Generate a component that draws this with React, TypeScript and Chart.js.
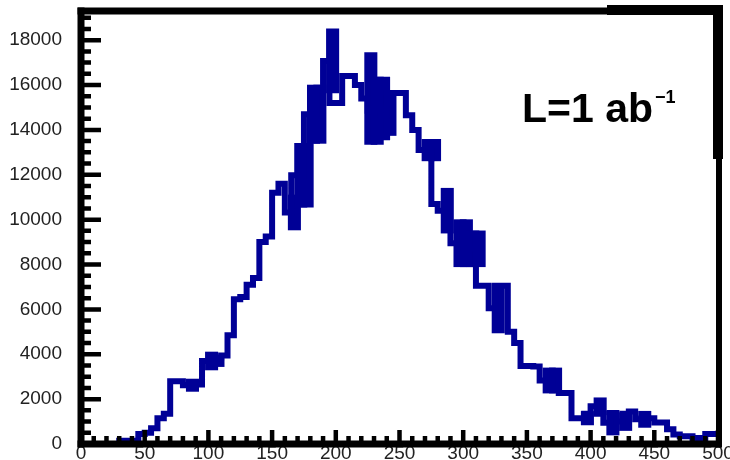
import React, { useEffect, useRef } from "react";
import { Chart, registerables } from "chart.js";

Chart.register(...registerables);

// ---- Axis ranges / ticks ----
const X_MIN = 0;
const X_MAX = 500;
const Y_MIN = 0;
const Y_MAX = 19300;
const X_TICK_STEP = 50;
const Y_TICK_STEP = 2000;
const BIN_WIDTH = 5;

// ---- Histogram bins (low edges) ----
const binLowEdges = [
  30, 35, 40, 45, 50, 55, 60, 65, 70, 75,
  80, 85, 90, 95, 100, 105, 110, 115, 120, 125,
  130, 135, 140, 145, 150, 155, 160, 165, 170, 175,
  180, 185, 190, 195, 200, 205, 210, 215, 220, 225,
  230, 235, 240, 245, 250, 255, 260, 265, 270, 275,
  280, 285, 290, 295, 300, 305, 310, 315, 320, 325,
  330, 335, 340, 345, 350, 355, 360, 365, 370, 375,
  380, 385, 390, 395, 400, 405, 410, 415, 420, 425,
  430, 435, 440, 445, 450, 455, 460, 465, 470, 475,
  480, 485, 490, 495,
];

// ---- Bin contents ----
const counts = [
  100, 150, 150, 150, 450, 500, 700, 1150, 1350, 2800,
  2800, 2620, 2650, 2650, 3700, 3700, 3850, 3950, 4850, 6450,
  6550, 7100, 7400, 9000, 9250, 11200, 11600, 10320, 11980, 11980,
  14700, 14700, 15850, 17075, 15200, 15200, 16400, 16400, 16000, 15400,
  14850, 14950, 14650, 15650, 15650, 15650, 14650, 14000, 13100, 13100,
  10700, 10400, 9850, 8950, 8950, 8700, 8700, 7050, 7050, 6050,
  7050, 7050, 5000, 4500, 3480, 3480, 3450, 2830, 2830, 2450,
  2270, 2270, 1150, 1150, 1350, 1680, 1350, 950, 1350, 1000,
  1350, 1450, 1100, 1150, 1150, 960, 960, 660, 420, 350,
  350, 270, 270, 450,
];

// ---- Bin errors (half-height of error boxes) ----
const errors = [
  0, 0, 0, 0, 0, 0, 0, 0, 0, 0,
  0, 275, 0, 0, 400, 250, 0, 0, 0, 0,
  0, 0, 0, 0, 0, 0, 0, 780, 1420, 1420,
  1300, 1300, 0, 1425, 0, 0, 0, 0, 0, 2050,
  1500, 1400, 900, 0, 0, 0, 0, 0, 480, 480,
  0, 1000, 0, 1050, 1050, 800, 800, 0, 0, 1100,
  0, 0, 0, 0, 0, 0, 0, 560, 560, 0,
  0, 0, 0, 300, 0, 380, 0, 550, 0, 400,
  0, 0, 360, 0, 0, 0, 0, 0, 0, 0,
  0, 0, 0, 0,
];

const ANNOTATION_MAIN = "L=1 ab";
const ANNOTATION_SUP = "\u22121";

const LINE_COLOR = "#000096";
const FONT_FAMILY = '"Liberation Sans", Arial, Helvetica, sans-serif';

const framePlugin = {
  id: "rootFrame",
  afterDatasetsDraw(chart: any) {
    const { ctx, chartArea, scales } = chart;
    const { left, right, top, bottom } = chartArea;
    const xs = scales.x;
    const ys = scales.y;
    ctx.save();
    ctx.strokeStyle = "#000";
    ctx.lineCap = "butt";
    ctx.lineWidth = 4.5;
    ctx.beginPath();
    for (let v = X_MIN; v <= X_MAX; v += 10) {
      const px = xs.getPixelForValue(v);
      const len = v % 50 === 0 ? 14 : 8;
      ctx.moveTo(px, bottom);
      ctx.lineTo(px, bottom - len);
    }
    for (let v = Y_MIN; v <= 19000; v += 500) {
      const py = ys.getPixelForValue(v);
      const len = v % 2000 === 0 ? 20 : 10;
      ctx.moveTo(left, py);
      ctx.lineTo(left + len, py);
    }
    ctx.stroke();

    ctx.fillStyle = "#000";
    // top
    ctx.fillRect(left - 3.5, top - 3.5, right - left + 8, 7);
    ctx.fillRect(607, top - 6, right + 5 - 607, 10);
    // left
    ctx.fillRect(left - 3.5, top - 3.5, 7, bottom - top + 7);
    // bottom
    ctx.fillRect(left - 3.5, bottom - 3.5, right - left + 7, 7);
    // right
    ctx.fillRect(right - 2, top - 3.5, 6, bottom - top + 7);
    ctx.fillRect(right - 5, top - 6, 10, 165 - top);

    // annotation
    ctx.fillStyle = "#000";
    ctx.textBaseline = "alphabetic";
    ctx.textAlign = "left";
    ctx.font = `bold 41px ${FONT_FAMILY}`;
    ctx.fillText(ANNOTATION_MAIN, 522, 122);
    const w = ctx.measureText(ANNOTATION_MAIN).width;
    ctx.font = `bold 18px ${FONT_FAMILY}`;
    ctx.fillText(ANNOTATION_SUP, 522 + w + 2, 103);
    ctx.restore();
  },
};

export default function App() {
  const canvasRef = useRef<HTMLCanvasElement | null>(null);

  useEffect(() => {
    if (!canvasRef.current) return;
    const lastIdx = binLowEdges.length - 1;
    const stepData = binLowEdges.map((x, i) => ({ x, y: counts[i] }));
    stepData.push({ x: binLowEdges[lastIdx] + BIN_WIDTH, y: counts[lastIdx] });

    const errData = binLowEdges.map((x, i) => ({
      x: x + BIN_WIDTH / 2,
      y: errors[i] > 0 ? [counts[i] - errors[i], counts[i] + errors[i]] : null,
    }));

    const makeTicks = (min: number, max: number, step: number) => {
      const out: { value: number }[] = [];
      for (let v = min; v <= max; v += step) out.push({ value: v });
      return out;
    };

    const chart = new Chart(canvasRef.current, {
      type: "bar",
      data: {
        datasets: [
          {
            type: "bar",
            data: errData as any,
            backgroundColor: LINE_COLOR,
            borderWidth: 0,
            barThickness: 12.4,
            barPercentage: 1,
            categoryPercentage: 1,
            order: 1,
          } as any,
          {
            type: "line",
            data: stepData as any,
            borderColor: LINE_COLOR,
            borderWidth: 6,
            stepped: "after",
            pointRadius: 0,
            fill: false,
            borderJoinStyle: "miter",
            borderCapStyle: "butt",
            order: 0,
          } as any,
        ],
      },
      options: {
        responsive: false,
        animation: false,
        layout: { padding: { left: 0, right: 12, top: 11, bottom: 0 } },
        plugins: {
          legend: { display: false },
          tooltip: { enabled: false },
        },
        scales: {
          x: {
            type: "linear",
            offset: false,
            min: X_MIN,
            max: X_MAX,
            grid: { display: false, offset: false },
            border: { display: false },
            ticks: {
              color: "#222",
              font: { family: FONT_FAMILY, size: 19 },
              padding: -10,
              maxRotation: 0,
              autoSkip: false,
              callback: (v: any) => String(v),
            },
            afterBuildTicks(scale: any) {
              scale.ticks = makeTicks(X_MIN, X_MAX, X_TICK_STEP);
            },
            afterFit(scale: any) {
              scale.height = 16;
              scale.paddingLeft = 0;
              scale.paddingRight = 0;
            },
          },
          y: {
            type: "linear",
            min: Y_MIN,
            max: Y_MAX,
            grid: { display: false },
            border: { display: false },
            ticks: {
              color: "#222",
              font: { family: FONT_FAMILY, size: 19 },
              padding: 11,
              callback: (v: any) => String(v),
            },
            afterBuildTicks(scale: any) {
              scale.ticks = makeTicks(Y_MIN, 18000, Y_TICK_STEP);
            },
            afterFit(scale: any) {
              scale.width = 81;
              scale.paddingTop = 0;
              scale.paddingBottom = 0;
            },
          },
        },
      } as any,
      plugins: [framePlugin],
    });
    return () => chart.destroy();
  }, []);

  return (
    <div style={{ position: "absolute", left: 0, top: 0, width: 730, height: 460, background: "#fff" }}>
      <canvas ref={canvasRef} width={730} height={460} style={{ display: "block" }} />
    </div>
  );
}
